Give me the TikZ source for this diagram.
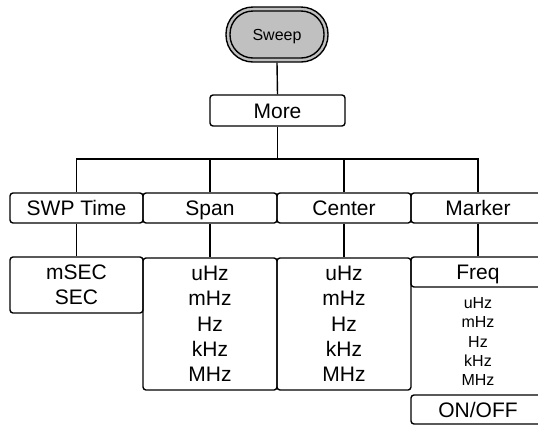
\documentclass[tikz,border=0pt]{standalone}
\usepackage{fontspec}
\setmainfont{Liberation Sans}
\begin{document}
\begin{tikzpicture}[x=1pt,y=-1pt,
  line width=1.4pt,
  box/.style={draw, rounded corners=3pt, inner sep=0pt, align=center,
    font=\fontsize{21}{25.3}\selectfont},
  onel/.style={box, text height=15pt, text depth=0pt},
  small/.style={inner sep=0pt, align=center, font=\fontsize{16}{19.3}\selectfont}]
\useasboundingbox (0,0) rectangle (538,424);
\begin{scope}
\clip (0,0) rectangle (538,424);
% Sweep
\node[draw, fill={rgb,255:red,192;green,192;blue,192}, rounded corners=27pt,
  minimum width=102pt, minimum height=55pt, inner sep=0pt] (sweep) at (277,34.5) {};
\node[draw, rounded corners=23pt, minimum width=94pt, minimum height=47pt,
  inner sep=0pt, text height=11.5pt, text depth=0pt,
  font=\fontsize{16}{19}\selectfont] (sweepin) at (277,34.5) {Sweep};
% More
\node[onel, minimum width=135pt, minimum height=31pt] (more) at (277.5,110.5) {More};
% top row
\node[onel, minimum width=133pt, minimum height=30pt] (swp) at (76.5,208) {SWP Time};
\node[onel, minimum width=134pt, minimum height=30pt] (span) at (210,208) {Span};
\node[onel, minimum width=134pt, minimum height=30pt] (center) at (344,208) {Center};
\node[onel, minimum width=134pt, minimum height=30pt] (marker) at (478,208) {Marker};
% second row
\node[box, minimum width=133pt, minimum height=56pt] (sec) at (76.5,285) {mSEC\\SEC};
\node[box, minimum width=134pt, minimum height=132pt] (spanu) at (210,324) {uHz\\mHz\\Hz\\kHz\\MHz};
\node[box, minimum width=134pt, minimum height=132pt] (centeru) at (344,324) {uHz\\mHz\\Hz\\kHz\\MHz};
\node[onel, minimum width=134pt, minimum height=30pt] (freq) at (478,272) {Freq};
\node[small] (units) at (478,341.5) {uHz\\mHz\\Hz\\kHz\\MHz};
\node[onel, minimum width=134pt, minimum height=29pt] (onoff) at (478,409.5) {ON/OFF};
% connectors
\coordinate (bus) at (277.5,159);
\draw (sweep.south) -- (more.north);
\draw (more.south) -- (more.south |- bus);
\draw (swp.north) -- (swp.north |- bus) -- (marker.north |- bus) -- (marker.north);
\draw (span.north) -- (span.north |- bus);
\draw (center.north) -- (center.north |- bus);
\draw (swp.south) -- (sec.north);
\draw (span.south) -- (spanu.north);
\draw (center.south) -- (centeru.north);
\draw (marker.south) -- (freq.north);
\end{scope}
\end{tikzpicture}
\end{document}
